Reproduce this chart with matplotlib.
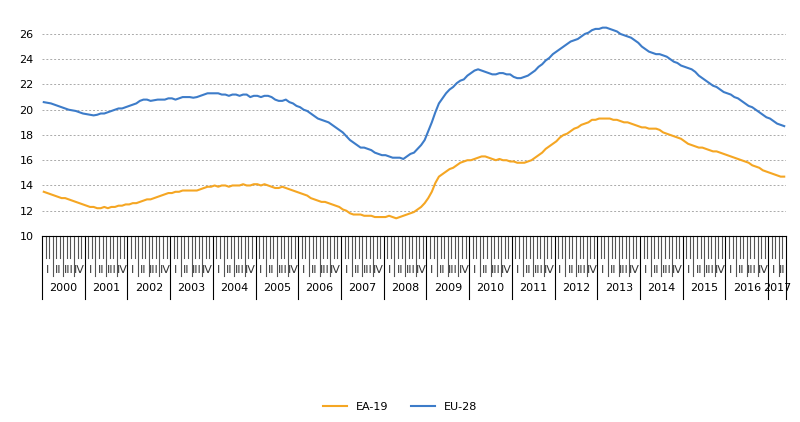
import matplotlib
matplotlib.use("Agg")
import matplotlib.pyplot as plt
import matplotlib.transforms as mtransforms

years = list(range(2000, 2018))
quarter_labels = ["I", "II", "III", "IV"]

eu28 = [
20.6,20.55,20.5,20.4,20.3,20.2,20.1,20.0,19.95,19.9,19.8,19.7,
19.65,19.6,19.55,19.6,19.7,19.7,19.8,19.9,20.0,20.1,20.1,20.2,
20.3,20.4,20.5,20.7,20.8,20.8,20.7,20.75,20.8,20.8,20.8,20.9,
20.9,20.8,20.9,21.0,21.0,21.0,20.95,21.0,21.1,21.2,21.3,21.3,
21.3,21.3,21.2,21.2,21.1,21.2,21.2,21.1,21.2,21.2,21.0,21.1,
21.1,21.0,21.1,21.1,21.0,20.8,20.7,20.7,20.8,20.6,20.5,20.3,
20.2,20.0,19.9,19.7,19.5,19.3,19.2,19.1,19.0,18.8,18.6,18.4,
18.2,17.9,17.6,17.4,17.2,17.0,17.0,16.9,16.8,16.6,16.5,16.4,
16.4,16.3,16.2,16.2,16.2,16.1,16.3,16.5,16.6,16.9,17.2,17.6,
18.3,19.0,19.8,20.5,20.9,21.3,21.6,21.8,22.1,22.3,22.4,22.7,
22.9,23.1,23.2,23.1,23.0,22.9,22.8,22.8,22.9,22.9,22.8,22.8,
22.6,22.5,22.5,22.6,22.7,22.9,23.1,23.4,23.6,23.9,24.1,24.4,
24.6,24.8,25.0,25.2,25.4,25.5,25.6,25.8,26.0,26.1,26.3,26.4,
26.4,26.5,26.5,26.4,26.3,26.2,26.0,25.9,25.8,25.7,25.5,25.3,
25.0,24.8,24.6,24.5,24.4,24.4,24.3,24.2,24.0,23.8,23.7,23.5,
23.4,23.3,23.2,23.0,22.7,22.5,22.3,22.1,21.9,21.8,21.6,21.4,
21.3,21.2,21.0,20.9,20.7,20.5,20.3,20.2,20.0,19.8,19.6,19.4,
19.3,19.1,18.9,18.8,18.7]

ea19 = [
13.5,13.4,13.3,13.2,13.1,13.0,13.0,12.9,12.8,12.7,12.6,12.5,
12.4,12.3,12.3,12.2,12.2,12.3,12.2,12.3,12.3,12.4,12.4,12.5,
12.5,12.6,12.6,12.7,12.8,12.9,12.9,13.0,13.1,13.2,13.3,13.4,
13.4,13.5,13.5,13.6,13.6,13.6,13.6,13.6,13.7,13.8,13.9,13.9,
14.0,13.9,14.0,14.0,13.9,14.0,14.0,14.0,14.1,14.0,14.0,14.1,
14.1,14.0,14.1,14.0,13.9,13.8,13.8,13.9,13.8,13.7,13.6,13.5,
13.4,13.3,13.2,13.0,12.9,12.8,12.7,12.7,12.6,12.5,12.4,12.3,
12.1,12.0,11.8,11.7,11.7,11.7,11.6,11.6,11.6,11.5,11.5,11.5,
11.5,11.6,11.5,11.4,11.5,11.6,11.7,11.8,11.9,12.1,12.3,12.6,
13.0,13.5,14.2,14.7,14.9,15.1,15.3,15.4,15.6,15.8,15.9,16.0,
16.0,16.1,16.2,16.3,16.3,16.2,16.1,16.0,16.1,16.0,16.0,15.9,
15.9,15.8,15.8,15.8,15.9,16.0,16.2,16.4,16.6,16.9,17.1,17.3,
17.5,17.8,18.0,18.1,18.3,18.5,18.6,18.8,18.9,19.0,19.2,19.2,
19.3,19.3,19.3,19.3,19.2,19.2,19.1,19.0,19.0,18.9,18.8,18.7,
18.6,18.6,18.5,18.5,18.5,18.4,18.2,18.1,18.0,17.9,17.8,17.7,
17.5,17.3,17.2,17.1,17.0,17.0,16.9,16.8,16.7,16.7,16.6,16.5,
16.4,16.3,16.2,16.1,16.0,15.9,15.8,15.6,15.5,15.4,15.2,15.1,
15.0,14.9,14.8,14.7,14.7]

n = len(eu28)
x = list(range(n))

fig = plt.figure(figsize=(8, 4.22), dpi=100)
ax = fig.add_axes([0.0525, 0.4408, 0.93, 0.4967])
ax.plot(x, ea19, color="#f5a623", lw=1.5, label="EA-19")
ax.plot(x, eu28, color="#3d7cc9", lw=1.5, label="EU-28")
ax.set_xlim(-0.5, n - 0.5)
ax.set_ylim(10, 26.6)
ax.set_yticks(range(10, 27, 2))
ax.tick_params(axis="y", length=0, labelsize=8, pad=6)
ax.set_xticks([])
ax.grid(axis="y", color="#aaaaaa", ls=(0, (2, 2)), lw=0.7)
for s in ["top", "right", "left"]:
    ax.spines[s].set_visible(False)
ax.spines["bottom"].set_color("black")

tr = mtransforms.blended_transform_factory(ax.transData, ax.transAxes)
for i in range(n + 1):
    b = i - 0.5
    if i % 12 == 0 or i == n:
        y0 = -0.30
        c = "black"
    elif i % 3 == 0:
        y0 = -0.19
        c = "#555555"
    else:
        y0 = -0.105
        c = "#555555"
    ax.plot([b, b], [0, y0], transform=tr, color=c, lw=0.8, clip_on=False)
for q in range((n + 2) // 3):
    start = q * 3
    end = min(start + 3, n)
    if end - start < 2:
        continue
    ax.text((start + end - 1) / 2, -0.16, quarter_labels[q % 4], transform=tr,
            ha="center", va="center", fontsize=8, color="#333333")
for k, yr in enumerate(years):
    start = k * 12
    end = min(start + 12, n)
    ax.text((start + end - 1) / 2, -0.25, str(yr), transform=tr,
            ha="center", va="center", fontsize=8)

fig.legend(loc="lower center", bbox_to_anchor=(0.5, 0.0), ncol=2, frameon=False,
           fontsize=8, handlelength=2.2, columnspacing=2)
fig.savefig("out.png", dpi=100)
